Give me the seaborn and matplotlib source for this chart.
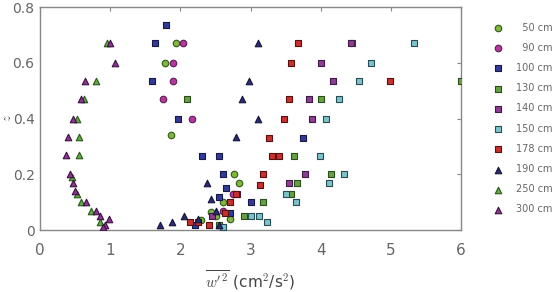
import numpy as np
import pandas as pd
import matplotlib
matplotlib.use("Agg")
import matplotlib.pyplot as plt
import seaborn as sns

# ---- data ----
labels = ["50 cm", "90 cm", "100 cm", "130 cm", "140 cm",
          "150 cm", "178 cm", "190 cm", "250 cm", "300 cm"]

x_50 = [1.93, 1.78, 1.86, 2.76, 2.83, 2.60, 2.43, 2.29, 2.50, 2.70]
z_50 = [0.67, 0.60, 0.34, 0.20, 0.17, 0.10, 0.065, 0.035, 0.05, 0.04]

x_90 = [2.04, 1.90, 1.90, 1.75, 2.17, 2.75, 2.60]
z_90 = [0.67, 0.60, 0.535, 0.47, 0.40, 0.13, 0.07]

x_100 = [1.80, 1.63, 1.60, 1.97, 2.31, 2.55, 2.60, 2.65, 2.55, 3.00, 2.70, 2.20, 3.74]
z_100 = [0.735, 0.67, 0.535, 0.40, 0.265, 0.265, 0.20, 0.15, 0.12, 0.10, 0.06, 0.02, 0.33]

x_130 = [6.00, 2.10, 4.00, 3.62, 4.14, 3.66, 3.57, 3.18, 4.45, 2.90, 2.55]
z_130 = [0.535, 0.47, 0.47, 0.265, 0.20, 0.17, 0.13, 0.10, 0.67, 0.05, 0.02]

x_140 = [4.43, 4.00, 4.17, 3.83, 3.88, 3.77, 3.55, 2.80, 2.45]
z_140 = [0.67, 0.60, 0.535, 0.47, 0.40, 0.20, 0.17, 0.13, 0.05]

x_150 = [5.33, 4.71, 4.54, 4.26, 4.07, 3.99, 4.33, 4.12, 3.50, 3.64, 3.00, 3.12, 3.23, 2.60]
z_150 = [0.67, 0.60, 0.535, 0.47, 0.40, 0.265, 0.20, 0.17, 0.13, 0.10, 0.05, 0.05, 0.03, 0.01]

x_178 = [3.67, 3.57, 4.99, 3.54, 3.47, 3.26, 3.30, 3.40, 3.18, 3.14, 2.79, 2.71, 2.64, 2.14, 2.25, 2.40]
z_178 = [0.67, 0.60, 0.535, 0.47, 0.40, 0.33, 0.265, 0.265, 0.20, 0.16, 0.13, 0.10, 0.06, 0.03, 0.03, 0.02]

x_190 = [3.10, 2.97, 2.88, 3.10, 2.79, 2.38, 2.43, 2.50, 1.71, 1.88, 2.05, 2.25, 2.55]
z_190 = [0.67, 0.535, 0.47, 0.40, 0.335, 0.17, 0.11, 0.07, 0.02, 0.03, 0.05, 0.04, 0.02]

x_250 = [0.95, 0.80, 0.62, 0.52, 0.55, 0.55, 0.45, 0.52, 0.58, 0.72, 0.85]
z_250 = [0.67, 0.535, 0.47, 0.40, 0.335, 0.27, 0.19, 0.13, 0.10, 0.07, 0.03]

x_300 = [1.00, 1.07, 0.64, 0.58, 0.47, 0.40, 0.37, 0.42, 0.47, 0.50, 0.66, 0.80, 0.86, 0.92, 0.98, 0.90]
z_300 = [0.67, 0.60, 0.535, 0.47, 0.40, 0.335, 0.27, 0.20, 0.17, 0.14, 0.10, 0.07, 0.05, 0.02, 0.04, 0.01]

xs = [x_50, x_90, x_100, x_130, x_140, x_150, x_178, x_190, x_250, x_300]
zs = [z_50, z_90, z_100, z_130, z_140, z_150, z_178, z_190, z_250, z_300]

df = pd.concat([pd.DataFrame({"w2": x, "z": z, "height": lab})
                for x, z, lab in zip(xs, zs, labels)], ignore_index=True)

faces = ["#7fb640", "#b8379e", "#333a96", "#67a043", "#8f3c94",
         "#7cc3cc", "#c9302e", "#2a2a78", "#5eaa45", "#8c3592"]
edges = ["#2f5a14", "#5a1a55", "#161a4a", "#2a4f1a", "#3f1a45",
         "#2a4d55", "#5a1010", "#14143a", "#2a5a1a", "#3a1040"]
markers = ["o", "o", "s", "s", "s", "s", "s", "^", "^", "^"]

sns.set_style("white")
plt.rcParams["mathtext.fontset"] = "cm"

fig = plt.figure(figsize=(5.57, 2.92), dpi=100)
ax = fig.add_axes([0.072, 0.212, 0.756, 0.764])

for lab, fc, ec, mk in zip(labels, faces, edges, markers):
    sub = df[df["height"] == lab]
    sns.scatterplot(data=sub, x="w2", y="z", ax=ax, marker=mk, s=22,
                    color=fc, edgecolor=ec, linewidth=0.8,
                    label="\u2007" * (6 - len(lab)) + lab, zorder=3)

ax.set_xlim(0, 6)
ax.set_ylim(0, 0.8)
ax.set_xticks(range(0, 7))
ax.set_yticks([0, 0.2, 0.4, 0.6, 0.8])
ax.set_yticklabels(["0", "0.2", "0.4", "0.6", "0.8"])
ax.tick_params(direction="in", length=3, top=True, right=True,
               colors="#888888", labelcolor="#666666")
ax.tick_params(axis="x", labelsize=11, pad=9)
ax.tick_params(axis="y", labelsize=10, pad=4)
for sp in ax.spines.values():
    sp.set_color("#888888")
    sp.set_linewidth(1.0)

ax.set_xlabel(r"$\overline{w'^2}$ (cm$^2$/s$^2$)", fontsize=11, color="#444444", labelpad=8)
ax.set_ylabel(r"$z$", fontsize=9, color="#444444")
ax.yaxis.set_label_coords(-0.062, 0.5)

leg = ax.legend(loc="upper left", bbox_to_anchor=(1.069, 0.93), frameon=False,
                fontsize=7, labelspacing=1.05, handletextpad=1.0, handlelength=1.6,
                borderpad=0, borderaxespad=0, markerscale=1.0)
for t in leg.get_texts():
    t.set_color("#666666")

fig.savefig("out.png", dpi=100)
